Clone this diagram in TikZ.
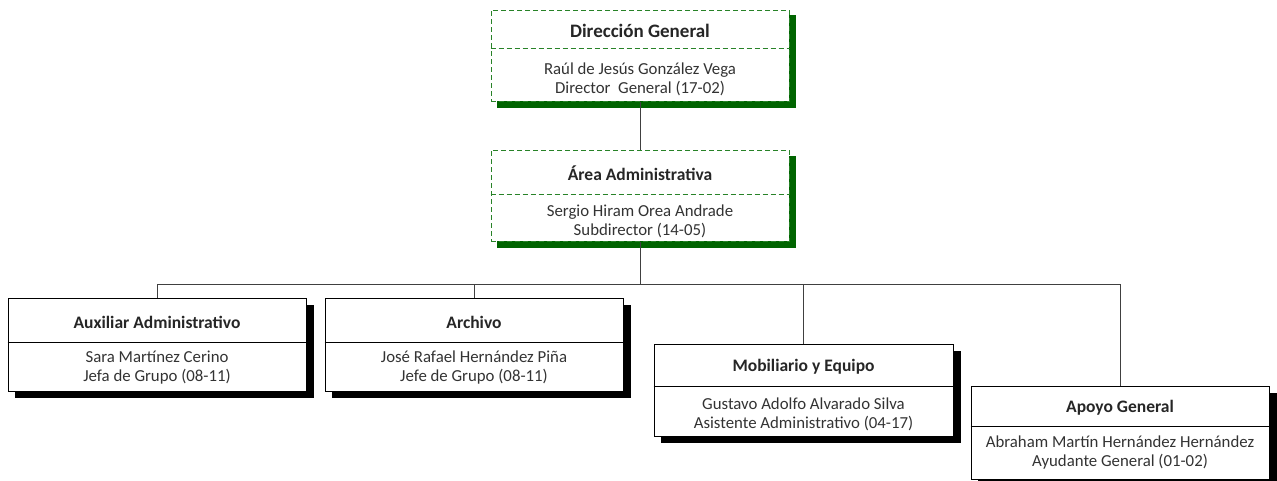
\documentclass[tikz,border=0pt]{standalone}
\usepackage{fontspec}
\setmainfont{Carlito}
\begin{document}
\begin{tikzpicture}[x=1pt,y=-1pt,
  gbox/.style={draw=gline, dash pattern=on 5pt off 3pt, line width=1pt, fill=white, inner sep=0pt},
  gdiv/.style={draw=gline, dash pattern=on 5pt off 3pt, line width=1pt},
  gshadow/.style={fill=gshade},
  kbox/.style={draw=black, line width=0.9pt, fill=white, inner sep=0pt},
  kdiv/.style={draw=black, line width=0.9pt},
  kshadow/.style={fill=black},
  ttl/.style={font=\bfseries\fontsize{17.5}{20}\selectfont, text=black!85},
  bigttl/.style={font=\bfseries\fontsize{19}{22}\selectfont, text=black!85},
  txt/.style={font=\fontsize{16.8}{19}\selectfont, text=black!80, align=center},
  conn/.style={draw=black!75, line width=0.9pt}]
\definecolor{gline}{RGB}{40,130,40}
\definecolor{gshade}{RGB}{0,100,0}
\useasboundingbox (0,0) rectangle (1277,480);
% ---------- Direccion General ----------
\fill[gshadow] (497,15) rectangle (796,108);
\node[gbox, minimum width=298, minimum height=91] (dg) at (640,55.5) {};
\draw[gdiv] (dg.west |- 0,48) -- (dg.east |- 0,48);
\node[bigttl] (dgt) at (640,31) {Dirección General};
\node[txt] (dgp) at (640,79) {Raúl de Jesús González Vega\\Director\ \ General (17-02)};
% ---------- Area Administrativa ----------
\fill[gshadow] (497,156) rectangle (796,248);
\node[gbox, minimum width=298, minimum height=91] (aa) at (640,195.5) {};
\draw[gdiv] (aa.west |- 0,194) -- (aa.east |- 0,194);
\node[ttl] (aat) at (640,173) {Área Administrativa};
\node[txt] (aap) at (640,221.5) {Sergio Hiram Orea Andrade\\Subdirector (14-05)};
% ---------- Auxiliar Administrativo ----------
\fill[kshadow] (15,305) rectangle (314,398);
\node[kbox, minimum width=298, minimum height=93] (ax) at (157,344.5) {};
\draw[kdiv] (ax.west |- 0,342) -- (ax.east |- 0,342);
\node[ttl] (axt) at (157,322) {Auxiliar Administrativo};
\node[txt] (axp) at (157,367.5) {Sara Martínez Cerino\\Jefa de Grupo (08-11)};
% ---------- Archivo ----------
\fill[kshadow] (332,305) rectangle (631,398);
\node[kbox, minimum width=298, minimum height=93] (ar) at (474,344.5) {};
\draw[kdiv] (ar.west |- 0,342) -- (ar.east |- 0,342);
\node[ttl] (art) at (474,322) {Archivo};
\node[txt] (arp) at (474,367.5) {José Rafael Hernández Piña\\Jefe de Grupo (08-11)};
% ---------- Mobiliario y Equipo ----------
\fill[kshadow] (661,351) rectangle (961,443);
\node[kbox, minimum width=299, minimum height=92] (mo) at (803.5,390) {};
\draw[kdiv] (mo.west |- 0,386) -- (mo.east |- 0,386);
\node[ttl] (mot) at (803.5,367) {Mobiliario y Equipo};
\node[txt] (mop) at (803.5,414.5) {Gustavo Adolfo Alvarado Silva\\Asistente Administrativo (04-17)};
% ---------- Apoyo General ----------
\fill[kshadow] (978,393) rectangle (1277,486);
\node[kbox, minimum width=298, minimum height=93] (ap) at (1120,432.5) {};
\draw[kdiv] (ap.west |- 0,426) -- (ap.east |- 0,426);
\node[ttl] (apt) at (1120,408) {Apoyo General};
\node[txt] (app) at (1120,452.5) {Abraham Martín Hernández Hernández\\Ayudante General (01-02)};
% ---------- connectors ----------
\coordinate (bus) at (640,284);
\draw[conn] (dg.south) -- (aa.north);
\draw[conn] (aa.south) -- (bus);
\draw[conn] (ax.north) -- (ax.north |- bus) -- (ap.north |- bus) -- (ap.north);
\draw[conn] (ar.north) -- (ar.north |- bus);
\draw[conn] (mo.north) -- (mo.north |- bus);
\end{tikzpicture}
\end{document}
